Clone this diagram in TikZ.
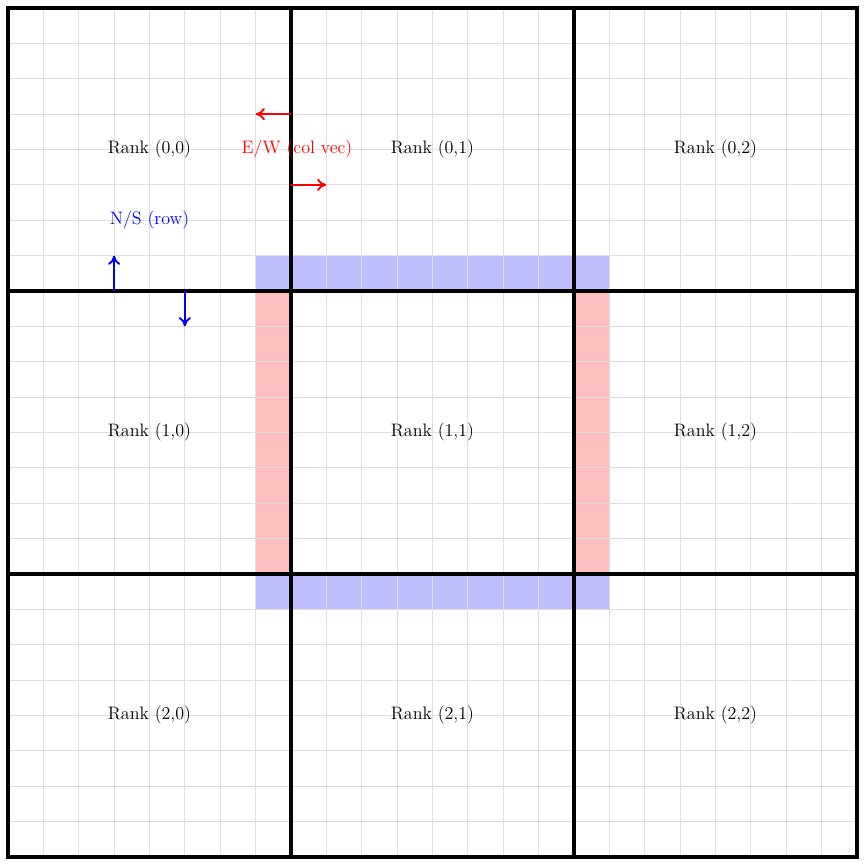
\documentclass[tikz,border=0pt]{standalone}
\usepackage{tikz}
\usetikzlibrary{arrows.meta, positioning}
\tikzstyle{rank}=[font=\fontsize{14.5}{17}\selectfont]
\tikzstyle{halo}=[font=\fontsize{14.5}{17}\selectfont]
\tikzstyle{cellgrid}=[draw=black!13, line width=0.9pt]
\tikzstyle{rankline}=[draw=black, line width=2.6pt]
\tikzstyle{msg}=[-{To[length=2.6mm,width=3.4mm]}, line width=1.5pt]

\begin{document}
\begin{tikzpicture}[x=1cm,y=1cm]
  \useasboundingbox (-0.226,-0.283) rectangle (24.226,24.226);
  % halo strips
  \fill[blue!25] (7,16) rectangle (17,17);
  \fill[blue!25] (7,7) rectangle (17,8);
  \fill[red!25] (7,8) rectangle (8,16);
  \fill[red!25] (16,8) rectangle (17,16);
  % fine grid
  \foreach \i in {1,...,23} {
    \draw[cellgrid] (\i,0) -- (\i,24);
    \draw[cellgrid] (0,\i) -- (24,\i);
  }
  % rank boundaries
  \foreach \i in {8,16} {
    \draw[rankline] (\i,0) -- (\i,24);
    \draw[rankline] (0,\i) -- (24,\i);
  }
  \draw[rankline] (0,0) rectangle (24,24);
  % rank labels
  \foreach \r in {0,1,2} {
    \foreach \c in {0,1,2} {
      \node[rank] (rank\r\c) at ({8*\c+4},{20-8*\r}) {Rank (\r,\c)};
    }
  }
  % exchange directions
  \node[halo, text=red] (ewlabel) at (8.17,20) {E/W (col vec)};
  \node[halo, text=blue] (nslabel) at (4,18) {N/S (row)};
  \coordinate (westfrom) at (8,21);
  \coordinate (westto) at (7,21);
  \coordinate (eastfrom) at (8,19);
  \coordinate (eastto) at (9,19);
  \coordinate (northfrom) at (3,16);
  \coordinate (northto) at (3,17);
  \coordinate (southfrom) at (5,16);
  \coordinate (southto) at (5,15);
  \draw[msg, red] (westfrom) -- (westto);
  \draw[msg, red] (eastfrom) -- (eastto);
  \draw[msg, blue] (northfrom) -- (northto);
  \draw[msg, blue] (southfrom) -- (southto);
\end{tikzpicture}
\end{document}
